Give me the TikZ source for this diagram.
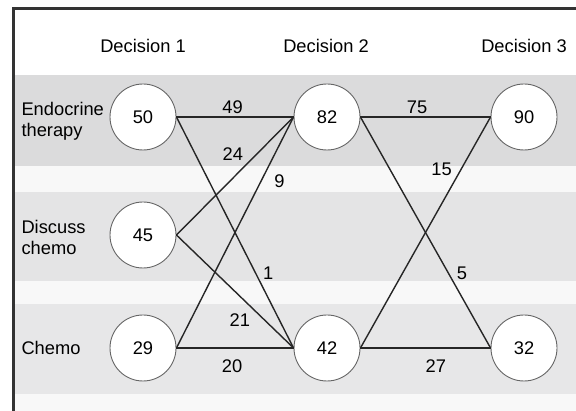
\documentclass[tikz,border=0pt]{standalone}
\usepackage{fontspec}
\setmainfont{Liberation Sans}
\definecolor{bandA}{HTML}{DBDBDC}
\definecolor{bandB}{HTML}{E4E4E5}
\definecolor{bandC}{HTML}{E7E7E8}
\definecolor{gap}{HTML}{F8F8F8}
\begin{document}
\begin{tikzpicture}[
        x=1pt, y=-1pt, % координаты в пикселях картинки
        font=\fontsize{18.3}{21}\selectfont,
        cell/.style={circle, draw=black!60, fill=white, line width=0.9pt, minimum size=66pt, inner sep=0pt}, % Стиль узлов
        link/.style={draw=black!85, line width=1.4pt}, % Стиль связей
        kant/.style={inner sep=3pt},
        row/.style={anchor=west, align=left},
    ]
    \useasboundingbox (0,0) rectangle (576,411);

    % полосы
    \fill[white] (13,8) rectangle (576,411);
    \fill[bandA] (15,75) rectangle (576,166);
    \fill[gap] (15,166) rectangle (576,192);
    \fill[bandB] (15,192) rectangle (576,281);
    \fill[gap] (15,281) rectangle (576,304);
    \fill[bandC] (15,304) rectangle (576,394);
    \fill[gap] (15,394) rectangle (576,411);
    \draw[black!80, line width=3pt] (13.5,411) -- (13.5,8.5) -- (576,8.5);

    % заголовки
    \node (h1) at (143,46) {Decision 1};
    \node (h2) at (326,46) {Decision 2};
    \node (h3) at (524,46) {Decision 3};

    \node[row] (r1) at (18,121) {Endocrine\\therapy};
    \node[row] (r2) at (18,237) {Discuss\\chemo};
    \node[row] (r3) at (18,348) {Chemo};

    % узлы
    \node[cell] (e1) at (143,117) {50};
    \node[cell] (d1) at (143,235) {45};
    \node[cell] (c1) at (143,348) {29};
    \node[cell] (e2) at (327,117) {82};
    \node[cell] (c2) at (327,348) {42};
    \node[cell] (e3) at (524,117) {90};
    \node[cell] (c3) at (524,348) {32};

    % связи
    \draw[link] (e1.east) -- node[kant, pos=0.48, above] {49} (e2.west);
    \draw[link] (e1.east) -- node[kant, pos=0.675, right=4pt] {1} (c2.west);
    \draw[link] (d1.east) -- node[kant, pos=0.6, above left] {24} (e2.west);
    \draw[link] (d1.east) -- node[kant, pos=0.66, below left] {21} (c2.west);
    \draw[link] (c1.east) -- node[kant, pos=0.72, right=10pt] {9} (e2.west);
    \draw[link] (c1.east) -- node[kant, pos=0.475, below=8pt] {20} (c2.west);
    \draw[link] (e2.east) -- node[kant, pos=0.435, above] {75} (e3.west);
    \draw[link] (e2.east) -- node[kant, pos=0.675, right=5pt] {5} (c3.west);
    \draw[link] (c2.east) -- node[kant, pos=0.73, above left] {15} (e3.west);
    \draw[link] (c2.east) -- node[kant, pos=0.58, below=8pt] {27} (c3.west);

\end{tikzpicture}
\end{document}
